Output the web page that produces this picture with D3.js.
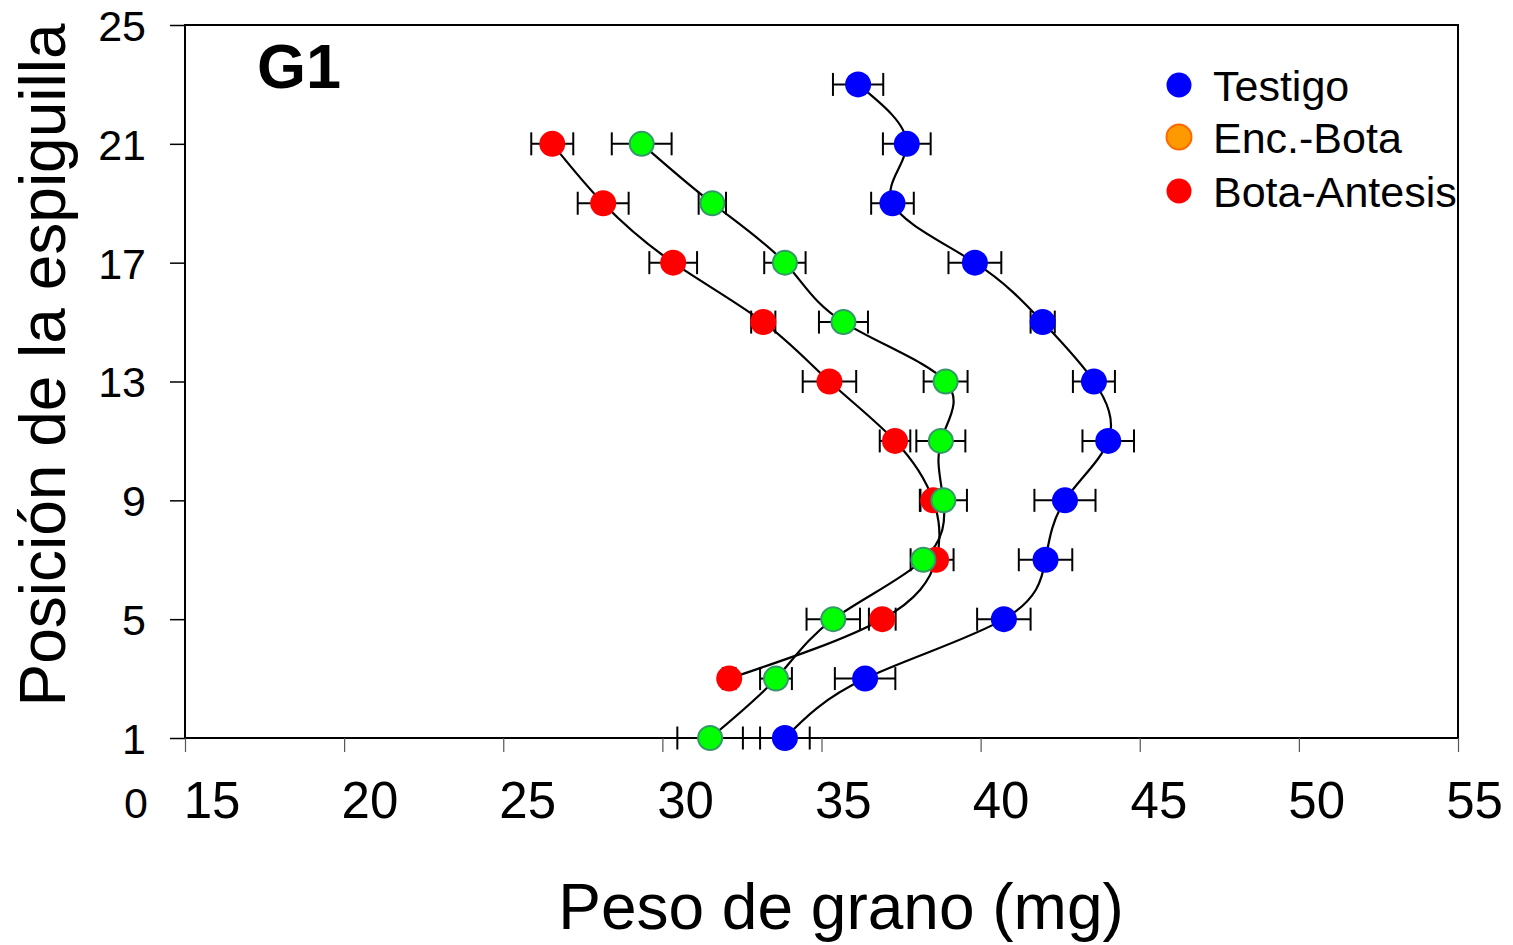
<!DOCTYPE html>
<html>
<head>
<meta charset="utf-8">
<script src="https://cdn.jsdelivr.net/npm/d3@7/dist/d3.min.js"></script>
<style>
  body { margin: 0; background: #fff; }
  svg { display: block; font-family: "Liberation Sans", Arial, Helvetica, sans-serif; }
</style>
</head>
<body>
<svg id="chart" width="1513" height="945"></svg>
<script>
// Spikelet positions (y) and grain weight in mg (x), mean ± error
const posTestigo = [1, 3, 5, 7, 9, 11, 13, 15, 17, 19, 21, 23];
const pesoTestigo = [33.85, 36.37, 40.73, 42.04, 42.65, 44.01, 43.56, 41.95, 39.82, 37.23, 37.68, 36.15];
const errTestigo = [0.78, 0.95, 0.84, 0.84, 0.96, 0.81, 0.66, 0.38, 0.83, 0.67, 0.75, 0.79];

const posEncBota = [1, 3, 5, 7, 9, 11, 13, 15, 17, 19, 21];
const pesoEncBota = [31.5, 33.57, 35.37, 38.2, 38.83, 38.75, 38.9, 35.69, 33.85, 31.57, 29.35];
const errEncBota = [1.03, 0.5, 0.84, 0.4, 0.74, 0.77, 0.69, 0.77, 0.65, 0.43, 0.94];

const posBotaAntesis = [3, 5, 7, 9, 11, 13, 15, 17, 19, 21];
const pesoBotaAntesis = [32.1, 36.91, 38.6, 38.51, 37.31, 35.25, 33.17, 30.34, 28.14, 26.54];
const errBotaAntesis = [0.2, 0.42, 0.55, 0.4, 0.48, 0.84, 0.38, 0.75, 0.8, 0.66];

const xTicks = [15, 20, 25, 30, 35, 40, 45, 50, 55];
const yTicks = [1, 5, 9, 13, 17, 21, 25];
const legendLabels = ["Testigo", "Enc.-Bota", "Bota-Antesis"];

const svg = d3.select("#chart");
const plot = { left: 185, right: 1458, top: 25, bottom: 738 };

const x = d3.scaleLinear().domain([15, 55]).range([plot.left, plot.right]);
const y = d3.scaleLinear().domain([1, 25]).range([plot.bottom, plot.top]);
// x tick labels sit slightly right of their ticks
const xLabel = d3.scaleLinear().domain([15, 55]).range([211.6, 1474]);

// Series: drawing order controls overlap (green drawn above red)
const series = [
  { name: "Testigo", pos: posTestigo, val: pesoTestigo, err: errTestigo, fill: "#0000ff", stroke: "none" },
  { name: "Bota-Antesis", pos: posBotaAntesis, val: pesoBotaAntesis, err: errBotaAntesis, fill: "#ff0000", stroke: "none" },
  { name: "Enc.-Bota", pos: posEncBota, val: pesoEncBota, err: errEncBota, fill: "#00ff00", stroke: "#339966" }
];
const legendStyles = [
  { fill: "#0000ff", stroke: "none" },
  { fill: "#ff9900", stroke: "#ff6600" },
  { fill: "#ff0000", stroke: "none" }
];

// Frame
svg.append("rect")
  .attr("x", plot.left).attr("y", plot.top)
  .attr("width", plot.right - plot.left).attr("height", plot.bottom - plot.top)
  .attr("fill", "none").attr("stroke", "#000").attr("stroke-width", 2);

// Y axis
const yAxis = svg.append("g")
  .attr("transform", `translate(${plot.left},0)`)
  .call(d3.axisLeft(y).tickValues(yTicks).tickSize(15).tickSizeOuter(0).tickFormat(d3.format("d")));
yAxis.select(".domain").remove();
yAxis.selectAll(".tick line").attr("stroke", "#000").attr("stroke-width", 1.5);
yAxis.selectAll(".tick text")
  .attr("x", -39).attr("dy", "0.36em")
  .attr("font-size", 43).attr("fill", "#000")
  .attr("font-family", "'Liberation Sans', Arial, sans-serif");

// X axis
const xAxis = svg.append("g")
  .attr("transform", `translate(0,${plot.bottom})`)
  .call(d3.axisBottom(x).tickValues(xTicks).tickSize(14).tickSizeOuter(0).tickFormat(d3.format("d")));
xAxis.select(".domain").remove();
xAxis.selectAll(".tick line").attr("stroke", "#555").attr("stroke-width", 1.2);
xAxis.selectAll(".tick text")
  .attr("y", 80).attr("dy", 0).attr("x", d => xLabel(d) - x(d))
  .attr("font-size", 51).attr("fill", "#000")
  .attr("font-family", "'Liberation Sans', Arial, sans-serif");

// Stray origin label under the y axis
svg.append("text")
  .attr("x", 148).attr("y", 818)
  .attr("text-anchor", "end")
  .attr("font-size", 43)
  .text("0");

// Axis titles
svg.append("text")
  .attr("transform", `translate(65,365) rotate(-90)`)
  .attr("text-anchor", "middle")
  .attr("font-size", 64)
  .text("Posición de la espiguilla");

svg.append("text")
  .attr("x", 841).attr("y", 929)
  .attr("text-anchor", "middle")
  .attr("font-size", 64)
  .text("Peso de grano (mg)");

// Panel tag
svg.append("text")
  .attr("x", 257).attr("y", 88)
  .attr("font-size", 63).attr("font-weight", "bold")
  .text("G1");

// Lines
const line = d3.line()
  .x(d => x(d.v)).y(d => y(d.p))
  .curve(d3.curveNatural);

const gLines = svg.append("g");
const gErr = svg.append("g");
const gPts = svg.append("g");

series.forEach(s => {
  const pts = s.pos.map((p, i) => ({ p, v: s.val[i], e: s.err[i] }));
  gLines.append("path")
    .datum(pts)
    .attr("d", line)
    .attr("fill", "none").attr("stroke", "#000").attr("stroke-width", 2.2);
});

const cap = 11.5;
series.forEach(s => {
  const pts = s.pos.map((p, i) => ({ p, v: s.val[i], e: s.err[i] }));
  const g = gErr.append("g").attr("stroke", "#000").attr("stroke-width", 2);
  g.selectAll("line.bar").data(pts).join("line").attr("class", "bar")
    .attr("x1", d => x(d.v - d.e)).attr("x2", d => x(d.v + d.e))
    .attr("y1", d => y(d.p)).attr("y2", d => y(d.p));
  g.selectAll("line.capL").data(pts).join("line").attr("class", "capL")
    .attr("x1", d => x(d.v - d.e)).attr("x2", d => x(d.v - d.e))
    .attr("y1", d => y(d.p) - cap).attr("y2", d => y(d.p) + cap);
  g.selectAll("line.capR").data(pts).join("line").attr("class", "capR")
    .attr("x1", d => x(d.v + d.e)).attr("x2", d => x(d.v + d.e))
    .attr("y1", d => y(d.p) - cap).attr("y2", d => y(d.p) + cap);
});

series.forEach(s => {
  const pts = s.pos.map((p, i) => ({ p, v: s.val[i] }));
  gPts.append("g").selectAll("circle").data(pts).join("circle")
    .attr("cx", d => x(d.v)).attr("cy", d => y(d.p))
    .attr("r", s.stroke === "none" ? 13 : 12)
    .attr("fill", s.fill)
    .attr("stroke", s.stroke)
    .attr("stroke-width", s.stroke === "none" ? 0 : 2);
});

// Legend
const legendY = [85, 137, 191];
const legend = svg.append("g");
legendLabels.forEach((lab, i) => {
  legend.append("circle")
    .attr("cx", 1179).attr("cy", legendY[i]).attr("r", 12.5)
    .attr("fill", legendStyles[i].fill)
    .attr("stroke", legendStyles[i].stroke)
    .attr("stroke-width", legendStyles[i].stroke === "none" ? 0 : 2);
  legend.append("text")
    .attr("x", 1213).attr("y", legendY[i] + 15.5)
    .attr("font-size", 43)
    .text(lab);
});
</script>
</body>
</html>
